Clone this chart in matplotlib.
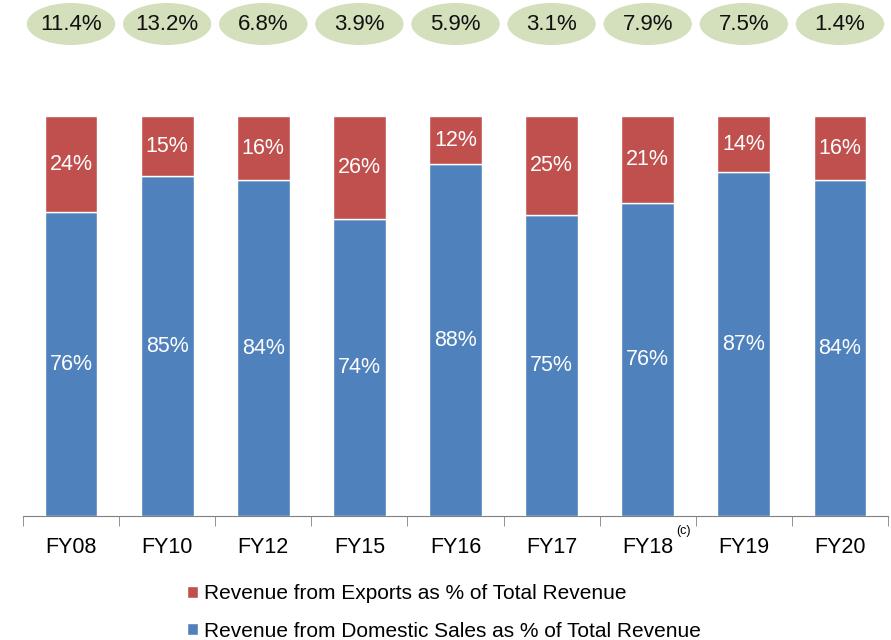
import numpy as np
import matplotlib
matplotlib.use("Agg")
import matplotlib.pyplot as plt
from matplotlib.patches import Ellipse

plt.rcParams['font.family'] = ['Liberation Sans', 'DejaVu Sans']

years = ["FY08", "FY10", "FY12", "FY15", "FY16", "FY17", "FY18", "FY19", "FY20"]
# bar heights as drawn (share of total, %)
domestic = [76, 85, 84, 74.3, 88, 75.3, 78.3, 86, 84]
exports = [24, 15, 16, 25.7, 12, 24.7, 21.7, 14, 16]
# printed labels
domestic_lbl = ["76%", "85%", "84%", "74%", "88%", "75%", "76%", "87%", "84%"]
exports_lbl = ["24%", "15%", "16%", "26%", "12%", "25%", "21%", "14%", "16%"]
growth = ["11.4%", "13.2%", "6.8%", "3.9%", "5.9%", "3.1%", "7.9%", "7.5%", "1.4%"]

BLUE = "#4F81BD"
RED = "#C0504D"
GREEN = "#D4DFBB"

fig = plt.figure(figsize=(8.91, 6.4), dpi=100)
ax = fig.add_axes([23 / 891, 1 - 516 / 640, 865 / 891, 400 / 640])

x = np.arange(len(years))
w = 0.55
b1 = ax.bar(x, domestic, w, color=BLUE, edgecolor="white", linewidth=1,
            label="Revenue from Domestic Sales as % of Total Revenue")
b2 = ax.bar(x, exports, w, bottom=domestic, color=RED, edgecolor="white", linewidth=1,
            label="Revenue from Exports as % of Total Revenue")

for i in range(len(years)):
    ax.text(x[i], domestic[i] / 2, domestic_lbl[i], ha="center", va="center",
            color="white", fontsize=15.5)
    ax.text(x[i], domestic[i] + exports[i] / 2, exports_lbl[i], ha="center",
            va="center", color="white", fontsize=15.5)
    # growth bubbles above the bars
    e = Ellipse((x[i], 123.0), 0.92, 10.5, facecolor=GREEN, edgecolor="none",
                clip_on=False)
    ax.add_patch(e)
    ax.text(x[i], 123.0, growth[i], ha="center", va="center", fontsize=16,
            color="#111111", clip_on=False)

ax.set_xlim(-0.5, len(years) - 0.5)
ax.set_ylim(0, 100)
for s in ["top", "right", "left"]:
    ax.spines[s].set_visible(False)
ax.spines["bottom"].set_color("#808080")
ax.set_yticks([])
ax.set_xticks(x)
ax.set_xticklabels(years, fontsize=15.5)
ax.tick_params(axis="x", length=0, pad=15)
ax.set_xticks(np.arange(len(years) + 1) - 0.5, minor=True)
ax.tick_params(axis="x", which="minor", length=7, color="#808080", direction="out")

# footnote marker on FY18
ax.annotate("(c)", xy=(x[6], 0), xytext=(26, -11), textcoords="offset points",
            xycoords="data", fontsize=9, ha="center", va="center",
            annotation_clip=False)

fig.legend([b2, b1], [b2.get_label(), b1.get_label()], loc="upper left",
           bbox_to_anchor=(177 / 891, 1 - 574 / 640), frameon=False, fontsize=15,
           handlelength=0.5, handleheight=0.5, handletextpad=0.3,
           labelspacing=0.88, borderpad=0)

fig.savefig("out.png", dpi=100)
